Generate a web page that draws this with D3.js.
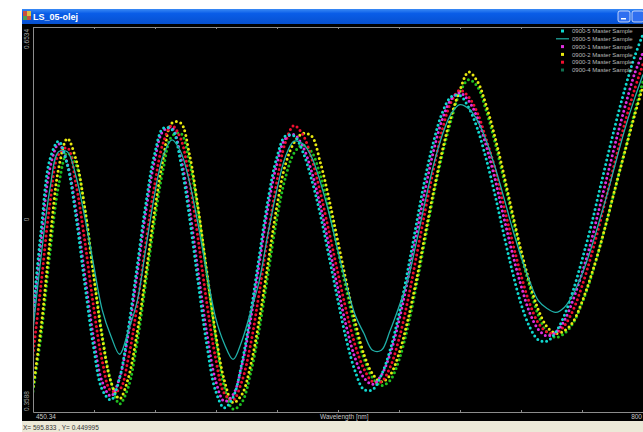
<!DOCTYPE html>
<html lang="en">
<head>
<meta charset="utf-8"/>
<title>LS_05-olej</title>
<script src="https://cdn.jsdelivr.net/npm/d3@7/dist/d3.min.js"></script>
<style>
  html, body { margin:0; padding:0; background:#fff; overflow:hidden; }
  svg { display:block; font-family:"Liberation Sans", Arial, sans-serif; }
</style>
</head>
<body>
<svg width="643" height="432"></svg>
<script>
// sample grid (nm), one reading every 5 nm
const wavelengths = d3.range(450, 801, 5);

// 0900-5 Master Sample (points)
const s5pts = [0.430,0.498,0.552,0.566,0.548,0.508,0.457,0.409,0.376,0.368,
  0.385,0.423,0.470,0.518,0.556,0.576,0.575,0.550,0.508,0.458,
  0.410,0.375,0.362,0.370,0.396,0.434,0.478,0.521,0.553,0.570,
  0.570,0.558,0.537,0.510,0.478,0.445,0.414,0.390,0.376,0.376,
  0.387,0.406,0.433,0.466,0.502,0.537,0.566,0.588,0.600,0.601,
  0.592,0.576,0.553,0.526,0.496,0.467,0.442,0.424,0.414,0.413,
  0.420,0.433,0.452,0.475,0.500,0.528,0.556,0.583,0.608,0.630,0.648];
// 0900-5 Master Sample (line)
const s5line = [0.417,0.478,0.529,0.558,0.558,0.539,0.508,0.472,0.437,0.417,
  0.403,0.421,0.443,0.484,0.525,0.555,0.567,0.558,0.535,0.502,
  0.465,0.431,0.411,0.399,0.413,0.435,0.459,0.495,0.528,0.554,
  0.566,0.564,0.554,0.535,0.511,0.483,0.456,0.433,0.419,0.406,
  0.406,0.421,0.439,0.459,0.488,0.519,0.548,0.571,0.587,0.594,
  0.591,0.582,0.567,0.547,0.524,0.500,0.478,0.459,0.444,0.438,
  0.435,0.439,0.449,0.464,0.483,0.505,0.528,0.553,0.577,0.598,0.617];
// 0900-1 Master Sample
const s1 = [0.424,0.489,0.545,0.564,0.549,0.513,0.464,0.416,0.382,0.371,
  0.385,0.419,0.464,0.512,0.551,0.574,0.576,0.554,0.515,0.466,
  0.419,0.383,0.367,0.372,0.394,0.429,0.472,0.515,0.548,0.568,
  0.571,0.562,0.543,0.517,0.486,0.454,0.424,0.400,0.385,0.380,
  0.387,0.403,0.428,0.459,0.494,0.528,0.559,0.583,0.598,0.603,
  0.597,0.584,0.563,0.538,0.509,0.481,0.456,0.435,0.422,0.417,
  0.420,0.429,0.445,0.465,0.488,0.515,0.542,0.569,0.594,0.617,0.634];
// 0900-2 Master Sample
const s2 = [0.374,0.424,0.489,0.545,0.568,0.552,0.515,0.464,0.416,0.382,
  0.369,0.385,0.419,0.464,0.512,0.553,0.580,0.580,0.556,0.515,
  0.466,0.419,0.383,0.366,0.372,0.394,0.429,0.472,0.515,0.548,
  0.565,0.572,0.570,0.550,0.522,0.490,0.458,0.428,0.403,0.388,
  0.382,0.387,0.403,0.428,0.459,0.494,0.528,0.559,0.585,0.605,
  0.619,0.612,0.594,0.570,0.542,0.512,0.483,0.458,0.437,0.424,
  0.419,0.421,0.428,0.443,0.462,0.484,0.509,0.535,0.560,0.585,0.608];
// 0900-3 Master Sample
const s3 = [0.399,0.457,0.518,0.556,0.561,0.533,0.490,0.440,0.398,0.375,
  0.376,0.400,0.440,0.488,0.532,0.565,0.578,0.568,0.536,0.491,
  0.442,0.400,0.373,0.368,0.382,0.410,0.450,0.494,0.534,0.565,
  0.578,0.571,0.553,0.527,0.497,0.466,0.436,0.410,0.392,0.382,
  0.382,0.393,0.414,0.443,0.477,0.512,0.545,0.575,0.596,0.605,
  0.600,0.588,0.568,0.546,0.518,0.490,0.464,0.442,0.427,0.420,
  0.419,0.425,0.437,0.455,0.477,0.502,0.529,0.556,0.582,0.605,0.625];
// 0900-4 Master Sample
const s4 = [0.372,0.418,0.480,0.532,0.557,0.548,0.515,0.466,0.418,0.382,
  0.365,0.378,0.412,0.458,0.505,0.545,0.570,0.572,0.550,0.512,
  0.464,0.416,0.378,0.361,0.366,0.388,0.422,0.464,0.506,0.538,
  0.557,0.563,0.558,0.540,0.514,0.483,0.452,0.423,0.400,0.385,
  0.379,0.383,0.398,0.423,0.455,0.490,0.525,0.556,0.582,0.603,
  0.613,0.608,0.590,0.566,0.538,0.509,0.480,0.455,0.433,0.420,
  0.416,0.419,0.427,0.442,0.461,0.484,0.509,0.535,0.561,0.587,0.612];

const legendNames = ["0900-5 Master Sample","0900-5 Master Sample","0900-1 Master Sample",
                     "0900-2 Master Sample","0900-3 Master Sample","0900-4 Master Sample"];
const legendColors = ["#10d8d0","#20b0a8","#e030e0","#e8e810","#f01030","#107050"];
const legendKinds  = ["dot","line","dot","dot","dot","dot"];

const xDomain = [450.34, 800];
const yDomain = [0.3588, 0.6534];
const yLabels = ["0.3588","0","0.6534"];

const svg = d3.select("svg");
const L = 33, R = 643, T = 27, B = 412;

// window frame
svg.append("rect").attr("x",22).attr("y",9).attr("width",621).attr("height",412).attr("fill","#000");
const defs = svg.append("defs");
const grad = defs.append("linearGradient").attr("id","tb").attr("x1",0).attr("y1",0).attr("x2",0).attr("y2",1);
grad.append("stop").attr("offset","0").attr("stop-color","#3a8af5");
grad.append("stop").attr("offset","0.3").attr("stop-color","#0a5de8");
grad.append("stop").attr("offset","1").attr("stop-color","#0650d0");
svg.append("rect").attr("x",22).attr("y",9).attr("width",621).attr("height",15).attr("fill","url(#tb)");
// icon
svg.append("rect").attr("x",23).attr("y",11).attr("width",8).attr("height",9).attr("fill","#c85040");
svg.append("rect").attr("x",27).attr("y",11).attr("width",4).attr("height",5).attr("fill","#e0c040");
svg.append("rect").attr("x",23).attr("y",16).attr("width",4).attr("height",4).attr("fill","#50a050");
svg.append("text").attr("x",33).attr("y",20).attr("fill","#fff")
  .attr("font-size",9).attr("font-weight","bold").text("LS_05-olej");
// caption buttons
[618, 632].forEach((bx, i) => {
  svg.append("rect").attr("x",bx).attr("y",11).attr("width",12).attr("height",11).attr("rx",2)
    .attr("fill","#2f6ff0").attr("stroke","#e8eefc").attr("stroke-width",0.8);
  if (i === 0) svg.append("rect").attr("x",bx+3).attr("y",18).attr("width",5).attr("height",1.5).attr("fill","#fff");
});

// status bar
svg.append("rect").attr("x",22).attr("y",421).attr("width",621).attr("height",11).attr("fill","#ece9d8");
svg.append("text").attr("x",23).attr("y",430).attr("fill","#333").attr("font-size",6.5)
  .text("X= 595.833 , Y= 0.449995");

// scales
const x = d3.scaleLinear().domain(xDomain).range([L, R]);
const y = d3.scaleLinear().domain(yDomain).range([B, T]);
const ticks = d3.range(11).map(i => xDomain[0] + i*(xDomain[1]-xDomain[0])/10);

const axTop = svg.append("g").attr("transform",`translate(0,${T})`)
  .call(d3.axisBottom(x).tickValues(ticks).tickSize(2).tickSizeOuter(0).tickFormat(""));
const axBot = svg.append("g").attr("transform",`translate(0,${B})`)
  .call(d3.axisTop(x).tickValues(ticks).tickSize(2).tickSizeOuter(0).tickFormat(""));
const axLeft = svg.append("g").attr("transform",`translate(${L},0)`)
  .call(d3.axisRight(y).tickValues([]).tickSizeOuter(0));
[axTop, axBot, axLeft].forEach(g => g.selectAll("path,line").attr("stroke","#8c8c8c"));

// axis texts
const ylab = svg.append("g").attr("fill","#a8a8a8").attr("font-size",6.5);
ylab.append("text").attr("transform",`translate(29,${y(yDomain[1])+2}) rotate(-90)`)
  .attr("text-anchor","end").text(yLabels[2]);
ylab.append("text").attr("transform",`translate(29,${y(yDomain[0])-1}) rotate(-90)`)
  .attr("text-anchor","start").text(yLabels[0]);
ylab.append("text").attr("transform",`translate(29,${y(0.5)-8}) rotate(-90)`)
  .attr("text-anchor","middle").text(yLabels[1]);
svg.append("text").attr("x",x(xDomain[0])+3).attr("y",419).attr("fill","#c8c8c8")
  .attr("font-size",6.5).text("450.34");
svg.append("text").attr("x",320).attr("y",419).attr("fill","#c8c8c8")
  .attr("font-size",6.5).text("Wavelength [nm]");
svg.append("text").attr("x",642).attr("y",419).attr("fill","#c8c8c8")
  .attr("font-size",6.5).attr("text-anchor","end").text("800");

// plot
defs.append("clipPath").attr("id","clip").append("rect")
  .attr("x",L+1).attr("y",T).attr("width",R-L).attr("height",B-T);
const plot = svg.append("g").attr("clip-path","url(#clip)");
const line = d3.line().x((d,i) => x(wavelengths[i])).y(d => y(d)).curve(d3.curveCatmullRom);

const dotted = [
  {data: s4,    color: "#20c020", off: 1},
  {data: s2,    color: "#e8e810", off: 3},
  {data: s3,    color: "#f01030", off: 0},
  {data: s1,    color: "#e030e0", off: 2},
  {data: s5pts, color: "#10d8d0", off: 4}
];
dotted.forEach(s => {
  plot.append("path").attr("d", line(s.data)).attr("fill","none")
    .attr("stroke", s.color).attr("stroke-width",3).attr("stroke-linecap","round")
    .attr("stroke-dasharray","0 4.6").attr("stroke-dashoffset", s.off);
});
plot.append("path").attr("d", line(s5line)).attr("fill","none")
  .attr("stroke","#20b0a8").attr("stroke-width",1.3);

// legend
const lg = svg.append("g").attr("font-size",6);
legendNames.forEach((n, i) => {
  const ly = 31 + i*7.8;
  if (legendKinds[i] === "line")
    lg.append("line").attr("x1",556).attr("x2",569).attr("y1",ly).attr("y2",ly)
      .attr("stroke",legendColors[i]).attr("stroke-width",1.2);
  else
    lg.append("rect").attr("x",561).attr("y",ly-1.5).attr("width",3).attr("height",3).attr("fill",legendColors[i]);
  lg.append("text").attr("x",572).attr("y",ly+2.2).attr("fill","#b8b8b8").text(n);
});
</script>
</body>
</html>
